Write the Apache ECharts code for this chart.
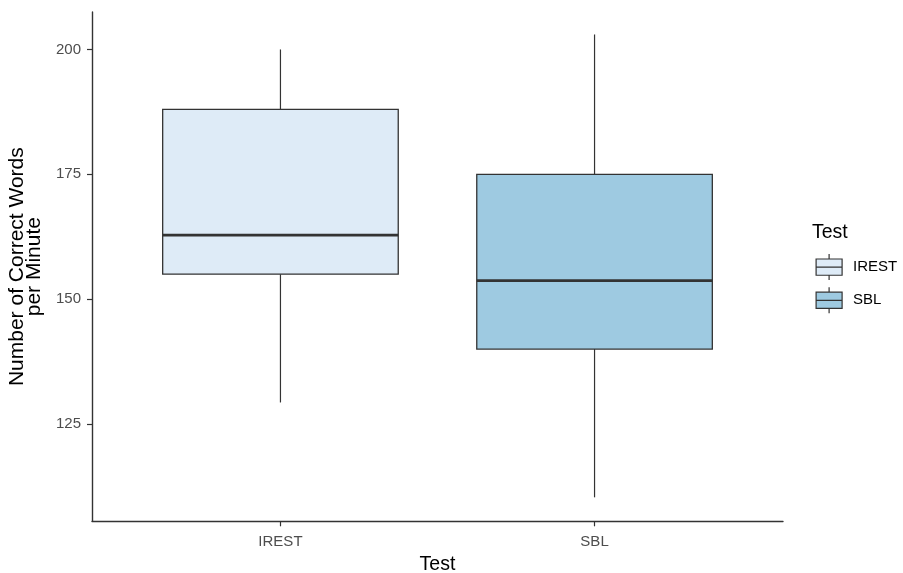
<!DOCTYPE html>
<html>
<head>
<meta charset="utf-8">
<script src="https://cdn.jsdelivr.net/npm/echarts@6/dist/echarts.min.js"></script>
<style>
html,body{margin:0;padding:0;background:#fff;}
#chart{width:903px;height:573px;}
</style>
</head>
<body>
<div id="chart"></div>
<script>
// Data
const categories = ['IREST', 'SBL'];
const lowerWhisker = [129.3, 110.3];
const q1 = [155, 140];
const median = [162.8, 153.7];
const q3 = [188, 175];
const upperWhisker = [200, 203];
const fills = ['#deebf7', '#9ecae1'];
const yTicks = [125, 150, 175, 200];

const FONT = '"Liberation Sans", Arial, sans-serif';
const chart = echarts.init(document.getElementById('chart'));

function renderBox(params, api) {
  const x = api.value(0);
  const half = 0.375;
  const top = api.coord([x, api.value(5)]);
  const b3 = api.coord([x, api.value(4)]);
  const md = api.coord([x, api.value(3)]);
  const b1 = api.coord([x, api.value(2)]);
  const bot = api.coord([x, api.value(1)]);
  const left = api.coord([x - half, api.value(2)])[0];
  const right = api.coord([x + half, api.value(2)])[0];
  const cx = top[0];
  const stroke = '#333333';
  return {
    type: 'group',
    children: [
      {type: 'line', shape: {x1: cx, y1: top[1], x2: cx, y2: b3[1]}, style: {stroke: stroke, lineWidth: 1.2}},
      {type: 'line', shape: {x1: cx, y1: b1[1], x2: cx, y2: bot[1]}, style: {stroke: stroke, lineWidth: 1.2}},
      {type: 'rect', shape: {x: left, y: b3[1], width: right - left, height: b1[1] - b3[1]},
        style: {fill: api.visual('color'), stroke: stroke, lineWidth: 1.3}},
      {type: 'line', shape: {x1: left, y1: md[1], x2: right, y2: md[1]}, style: {stroke: stroke, lineWidth: 2.7}}
    ]
  };
}

const series = categories.map((name, i) => ({
  name: name,
  type: 'custom',
  renderItem: renderBox,
  itemStyle: {color: fills[i]},
  encode: {x: 0, y: [1, 2, 3, 4, 5]},
  data: [[i + 1, lowerWhisker[i], q1[i], median[i], q3[i], upperWhisker[i]]]
}));

const iconPath = 'path://M16,3.2L16,8M3.2,8L28.8,8L28.8,24L3.2,24ZM3.2,16L28.8,16M16,24L16,28.8';

chart.setOption({
  animation: false,
  backgroundColor: '#ffffff',
  textStyle: {fontFamily: FONT},
  title: {
    text: 'Test', left: 812, top: 223, padding: 0,
    textStyle: {fontFamily: FONT, fontSize: 19.5, fontWeight: 'normal', color: '#000000'}
  },
  legend: {
    orient: 'vertical', left: 815.5, top: 253.5, padding: 0,
    itemWidth: 26, itemHeight: 26, itemGap: 6,
    icon: iconPath,
    itemStyle: {borderColor: '#333333', borderWidth: 1.2},
    textStyle: {fontFamily: FONT, fontSize: 15, color: '#000000', padding: [0, 0, 0, 6]},
    data: categories.map((c, i) => ({name: c, itemStyle: {color: fills[i], borderColor: '#333333', borderWidth: 1.2}}))
  },
  grid: {left: 92, right: 120, top: 12, bottom: 51.7, containLabel: false, outerBoundsMode: 'none'},
  xAxis: {
    type: 'value', min: 0.4, max: 2.6,
    name: 'Test', nameLocation: 'middle', nameGap: 33.5,
    nameTextStyle: {fontFamily: FONT, fontSize: 19.5, color: '#000000'},
    axisLine: {show: true, lineStyle: {color: '#333333', width: 1.4}},
    axisTick: {show: true, customValues: [1, 2], length: 5, lineStyle: {color: '#333333', width: 1.2}},
    axisLabel: {
      customValues: [1, 2], margin: 13.5, fontSize: 15, color: '#4d4d4d', fontFamily: FONT,
      formatter: v => categories[Math.round(v) - 1]
    },
    splitLine: {show: false}
  },
  yAxis: {
    type: 'value', min: 105.5, max: 207.5,
    name: 'Number of Correct Words\nper Minute', nameLocation: 'middle', nameGap: 47,
    nameTextStyle: {fontFamily: FONT, fontSize: 21, color: '#000000', lineHeight: 17, align: 'center'},
    axisLine: {show: true, lineStyle: {color: '#333333', width: 1.4}},
    axisTick: {show: true, customValues: yTicks, length: 5, lineStyle: {color: '#333333', width: 1.2}},
    axisLabel: {customValues: yTicks, margin: 11, fontSize: 15, color: '#4d4d4d', fontFamily: FONT},
    splitLine: {show: false}
  },
  series: series
});
</script>
</body>
</html>
